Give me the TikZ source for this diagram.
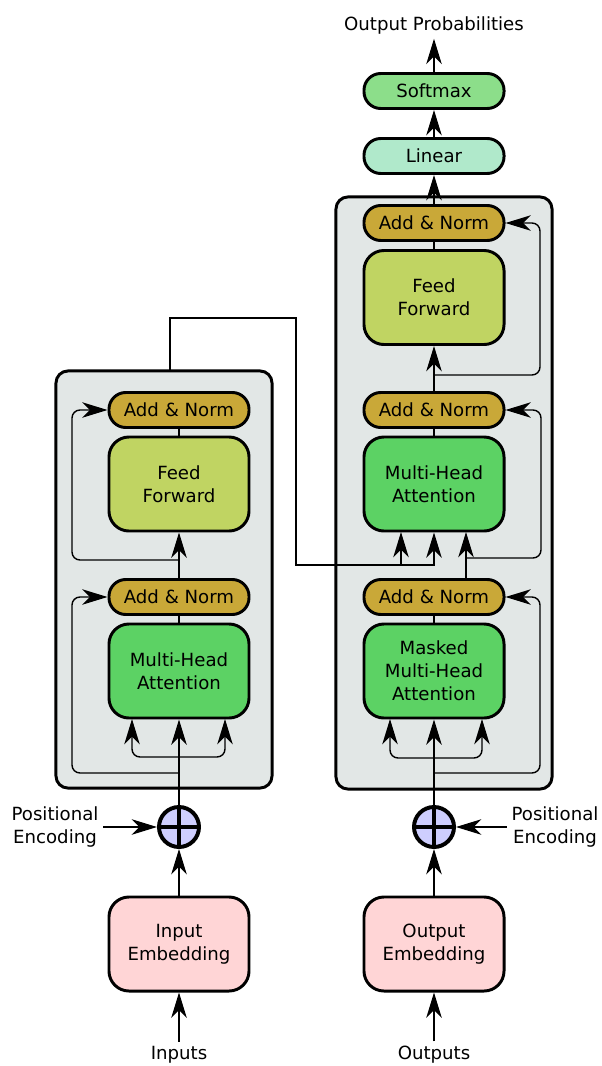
\documentclass[tikz,border=0pt]{standalone}
\usepackage{fontspec}
\setmainfont{DejaVu Sans}
\usetikzlibrary{arrows.meta,positioning,shapes.geometric}
\pgfdeclarelayer{boxlayer}
\pgfdeclarelayer{edgelayer}
\pgfdeclarelayer{nodelayer}
\pgfsetlayers{boxlayer,edgelayer,nodelayer,main}
\tikzset{font=\fontsize{12.9}{16.4}\selectfont}
\definecolor{blockgray}{RGB}{226,231,230}
\definecolor{normcol}{RGB}{201,168,56}
\definecolor{ffcol}{RGB}{192,212,98}
\definecolor{attcol}{RGB}{92,210,100}
\definecolor{lincol}{RGB}{176,233,203}
\definecolor{softcol}{RGB}{140,222,138}
\definecolor{embcol}{RGB}{255,213,214}
\definecolor{pluscol}{RGB}{206,206,254}
\tikzstyle{none}=[inner sep=0pt]
\tikzstyle{txt}=[align=center]
\tikzstyle{block}=[rectangle,rounded corners=0.3cm,fill=blockgray,draw=black,line width=2.1pt,minimum width=5.4cm]
\tikzstyle{pill}=[rectangle,rounded corners=0.42cm,draw=black,line width=2.1pt,minimum width=3.5cm,minimum height=0.875cm,inner sep=0pt]
\tikzstyle{bigbox}=[rectangle,rounded corners=0.5cm,draw=black,line width=2.1pt,minimum width=3.5cm,minimum height=2.35cm,inner sep=0pt,align=center]
\tikzstyle{addnorm}=[pill,fill=normcol]
\tikzstyle{feedfwd}=[bigbox,fill=ffcol]
\tikzstyle{attention}=[bigbox,fill=attcol]
\tikzstyle{embedding}=[bigbox,fill=embcol]
\tikzstyle{adder}=[circle,fill=pluscol,draw=black,line width=2.8pt,minimum size=1cm,inner sep=0pt,
  path picture={\draw[line width=2.6pt] (path picture bounding box.north) -- (path picture bounding box.south)
  (path picture bounding box.west) -- (path picture bounding box.east);}]
\tikzstyle{inarrow}=[-{Stealth[length=18pt,width=11pt,inset=5.5pt]},line width=1.4pt]
\tikzstyle{linkarrow}=[-{Stealth[length=18pt,width=11pt,inset=5.5pt]},line width=1pt]
\tikzstyle{resarrow}=[-{Stealth[length=18pt,width=11pt,inset=5.5pt]},line width=1pt,rounded corners=0.2cm]
\tikzstyle{simple}=[-,line width=1.4pt]

\begin{document}
\begin{tikzpicture}[x=0.025cm,y=-0.025cm]
	\useasboundingbox (0,0) rectangle (601,1066);
	\begin{pgfonlayer}{boxlayer}
		\node [style=block, minimum height=10.425cm] (Enc) at (164,579.5) {};
		\node [style=block, minimum height=14.8cm] (Dec) at (444,493) {};
	\end{pgfonlayer}
	\begin{pgfonlayer}{nodelayer}
		\node [style=addnorm] (AN2) at (179,410) {Add \& Norm};
		\node [style=feedfwd] (FF1) at (179,484) {Feed\\Forward};
		\node [style=addnorm] (AN1) at (179,597) {Add \& Norm};
		\node [style=attention] (MHA1) at (179,671) {Multi-Head\\Attention};
		\node [style=adder] (plus1) at (179,827) {};
		\node [style=embedding] (IE) at (179,944) {Input\\Embedding};
		\node [style=txt] (in) at (179,1055) {Inputs};
		\node [style=txt] (PEL) at (55,827) {Positional\\Encoding};
		\node [style=txt] (OP) at (434,25) {Output Probabilities};
		\node [style=pill, fill=softcol] (SM) at (434,91) {Softmax};
		\node [style=pill, fill=lincol] (LIN) at (434,156) {Linear};
		\node [style=addnorm] (AN5) at (434,223) {Add \& Norm};
		\node [style=feedfwd] (FF2) at (434,297.5) {Feed\\Forward};
		\node [style=addnorm] (AN4) at (434,410) {Add \& Norm};
		\node [style=attention] (MHA3) at (434,484) {Multi-Head\\Attention};
		\node [style=addnorm] (AN3) at (434,597) {Add \& Norm};
		\node [style=attention] (MHA2) at (434,671) {Masked\\Multi-Head\\Attention};
		\node [style=adder] (plus2) at (434,827) {};
		\node [style=embedding] (OE) at (434,944) {Output\\Embedding};
		\node [style=txt] (out) at (434,1055) {Outputs};
		\node [style=txt] (PER) at (555,827) {Positional\\Encoding};
		\node [style=none] (ej) at (179,757) {};
		\node [style=none] (ejL) at (132,719) {};
		\node [style=none] (ejR) at (225,719) {};
		\node [style=none] (er1) at (179,773) {};
		\node [style=none] (er1c) at (72,597) {};
		\node [style=none] (er2) at (179,560) {};
		\node [style=none] (er2c) at (72,410) {};
		\node [style=none] (eo) at (170,371) {};
		\node [style=none] (k2) at (296,318) {};
		\node [style=none] (kq) at (434,565) {};
		\node [style=none] (kv) at (401,565) {};
		\node [style=none] (kvt) at (401,532) {};
		\node [style=none] (dj) at (434,758) {};
		\node [style=none] (djL) at (390,719) {};
		\node [style=none] (djR) at (482,719) {};
		\node [style=none] (dr1) at (434,773) {};
		\node [style=none] (dr1c) at (540,597) {};
		\node [style=none] (q1) at (466,580) {};
		\node [style=none] (q2) at (466,532) {};
		\node [style=none] (dr2) at (466,558) {};
		\node [style=none] (dr2c) at (541,410) {};
		\node [style=none] (dr3) at (434,375) {};
		\node [style=none] (dr3c) at (540,223) {};
	\end{pgfonlayer}
	\begin{pgfonlayer}{edgelayer}
		\draw [style=inarrow] (in) to (IE);
		\draw [style=inarrow] (IE) to (plus1);
		\draw [style=inarrow] (PEL) to (plus1);
		\draw [style=inarrow] (plus1) to (MHA1);
		\draw [style=resarrow] (ej.center) -| (ejL.center);
		\draw [style=resarrow] (ej.center) -| (ejR.center);
		\draw [style=resarrow] (er1.center) -| (er1c.center) -- (AN1);
		\draw [style=simple] (MHA1) to (AN1);
		\draw [style=inarrow] (AN1) to (FF1);
		\draw [style=resarrow] (er2.center) -| (er2c.center) -- (AN2);
		\draw [style=simple] (FF1) to (AN2);
		\draw [style=linkarrow] (eo.center) |- (k2.center) |- (kq.center) to (MHA3);
		\draw [style=linkarrow] (kv.center) to (kvt.center);
		\draw [style=inarrow] (out) to (OE);
		\draw [style=inarrow] (OE) to (plus2);
		\draw [style=inarrow] (PER) to (plus2);
		\draw [style=inarrow] (plus2) to (MHA2);
		\draw [style=resarrow] (dj.center) -| (djL.center);
		\draw [style=resarrow] (dj.center) -| (djR.center);
		\draw [style=resarrow] (dr1.center) -| (dr1c.center) -- (AN3);
		\draw [style=simple] (MHA2) to (AN3);
		\draw [style=inarrow] (q1.center) to (q2.center);
		\draw [style=resarrow] (dr2.center) -| (dr2c.center) -- (AN4);
		\draw [style=simple] (MHA3) to (AN4);
		\draw [style=inarrow] (AN4) to (FF2);
		\draw [style=resarrow] (dr3.center) -| (dr3c.center) -- (AN5);
		\draw [style=simple] (FF2) to (AN5);
		\draw [style=inarrow] (AN5) to (LIN);
		\draw [style=inarrow] (LIN) to (SM);
		\draw [style=inarrow] (SM) to (OP);
	\end{pgfonlayer}
\end{tikzpicture}
\end{document}
